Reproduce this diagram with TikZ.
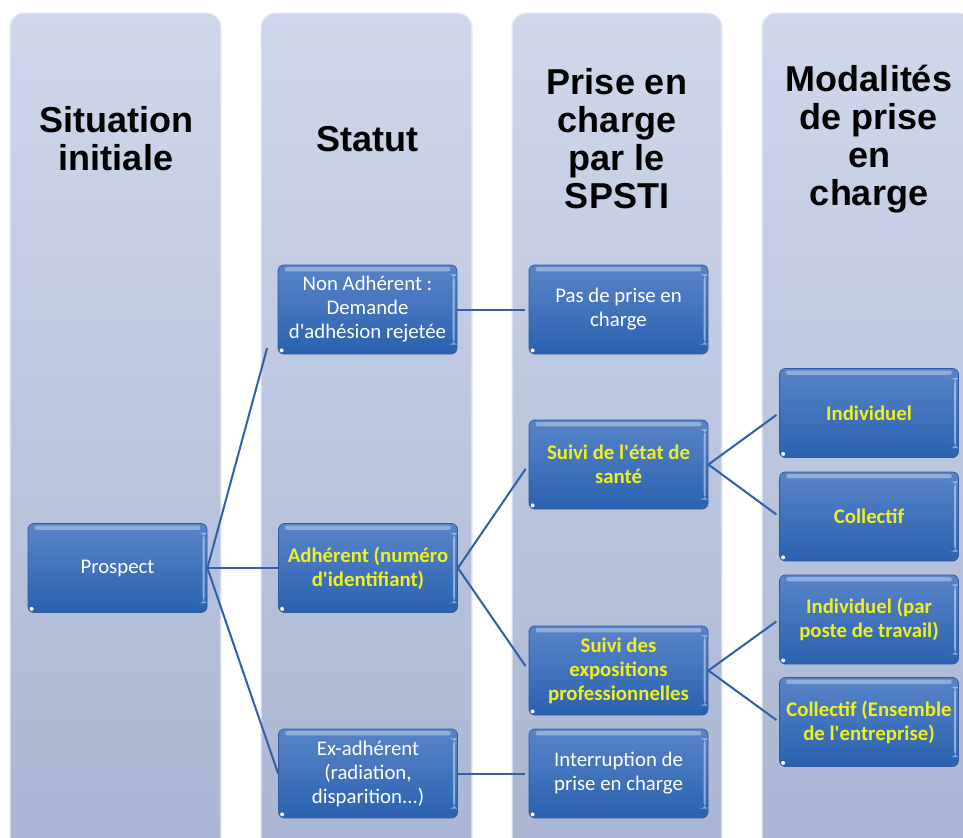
\documentclass[tikz,border=0pt]{standalone}
\usepackage{fontspec}
\setmainfont{Carlito}
% card text keeps the straight apostrophe (no TeX ligature mapping)
\newfontfamily\boxfont{Carlito}
\newfontfamily\titlefont{Liberation Sans}
\usetikzlibrary{calc}

\definecolor{laneTop}{RGB}{207,215,235}
\definecolor{laneBot}{RGB}{168,180,210}
\definecolor{boxTop}{RGB}{88,132,200}
\definecolor{boxBot}{RGB}{42,98,176}
\definecolor{boxEdge}{RGB}{50,90,160}
\definecolor{linkBlue}{RGB}{50,95,170}
\definecolor{hiYellow}{RGB}{240,240,30}

\tikzset{
  lane/.style={top color=laneTop, bottom color=laneBot, draw=white!55!laneTop,
    line width=0.8pt, rounded corners=11pt},
  lanetitle/.style={font=\titlefont\bfseries\fontsize{27}{28.5}\selectfont,
    align=center, text=black, inner sep=0pt},
  card/.style={rectangle, rounded corners=4.5pt, minimum width=134.25pt,
    minimum height=66.75pt, inner sep=0pt, top color=boxTop, bottom color=boxBot,
    draw=boxEdge, line width=0.6pt, align=center, text=white,
    font=\boxfont\fontsize{15.6}{18}\selectfont,
    path picture={
      % glossy band along the top edge
      \fill[white, opacity=0.35, rounded corners=1.5pt]
        ([xshift=5pt, yshift=-1.6pt]path picture bounding box.north west) rectangle
        ([xshift=-5pt, yshift=-4.8pt]path picture bounding box.north east);
      % light strip along the right edge
      \fill[white, opacity=0.45]
        ([xshift=-3.2pt, yshift=-7pt]path picture bounding box.north east) rectangle
        ([xshift=-1.7pt, yshift=7pt]path picture bounding box.south east);
      % small white mark in the lower left corner
      \fill[white]
        ([xshift=2.7pt, yshift=2.7pt]path picture bounding box.south west) circle (1.5pt);
    }},
  keycard/.style={card, text=hiYellow, font=\boxfont\bfseries\fontsize{15.6}{18}\selectfont},
  link/.style={draw=linkBlue, line width=1.5pt},
}

\begin{document}
\begin{tikzpicture}[x=0.75pt, y=-0.75pt]
  \useasboundingbox (0,0) rectangle (963,838);
  \fill[white] (0,0) rectangle (963,838);
  \clip (0,0) rectangle (963,838);

  % the four lanes
  \path[lane] (10,13) rectangle (221,880);
  \path[lane] (261,13) rectangle (472,880);
  \path[lane] (512,13) rectangle (722,880);
  \path[lane] (762,13) rectangle (973,880);

  % lane headings
  \node[lanetitle] (t1) at (116,139) {Situation\\initiale};
  \node[lanetitle] (t2) at (367,139) {Statut};
  \node[lanetitle] (t3) at (617,139) {Prise en\\charge\\par le\\SPSTI};
  \node[lanetitle] (t4) at (869,139) {Modalités\\de prise\\en\\charge};

  % situation and status
  \node[card] (pro) at (117.5,568) {Prospect};
  \node[card] (na) at (367.5,309.5) {Non Adhérent :\\Demande\\d'adhésion rejetée};
  \node[keycard] (ad) at (368,568) {Adhérent (numéro\\d'identifiant)};
  \node[card] (ex) at (368,773.5) {Ex-adhérent\\(radiation,\\disparition...)};

  % handling by the service
  \node[card] (pas) at (618.5,309.5) {Pas de prise en\\charge};
  \node[keycard] (sante) at (618.5,464.5) {Suivi de l'état de\\santé};
  \node[keycard] (expo) at (618.5,670.5) {Suivi des\\expositions\\professionnelles};
  \node[card] (intr) at (618.5,773.5) {Interruption de\\prise en charge};

  % handling modes
  \node[keycard] (ind) at (869,413) {Individuel};
  \node[keycard] (col) at (869,516.5) {Collectif};
  \node[keycard] (indp) at (869,619.5) {Individuel (par\\poste de travail)};
  \node[keycard] (cole) at (869,722) {Collectif (Ensemble\\de l'entreprise)};

  % connectors
  \draw[link, shorten >=30pt] (pro.east) -- (na.west);
  \draw[link] (pro.east) -- (ad.west);
  \draw[link] (pro.east) -- (ex.west);
  \draw[link, shorten >=3pt] (na.east) -- (pas.west);
  \draw[link, shorten >=4pt] (ad.east) -- (sante.west);
  \draw[link, shorten >=4pt] (ad.east) -- (expo.west);
  \draw[link, shorten >=3pt] (ex.east) -- (intr.west);
  \draw[link, shorten >=2.5pt] (sante.east) -- (ind.west);
  \draw[link, shorten >=2.5pt] (sante.east) -- (col.west);
  \draw[link, shorten >=2.5pt] (expo.east) -- (indp.west);
  \draw[link, shorten >=2.5pt] (expo.east) -- (cole.west);
\end{tikzpicture}
\end{document}
